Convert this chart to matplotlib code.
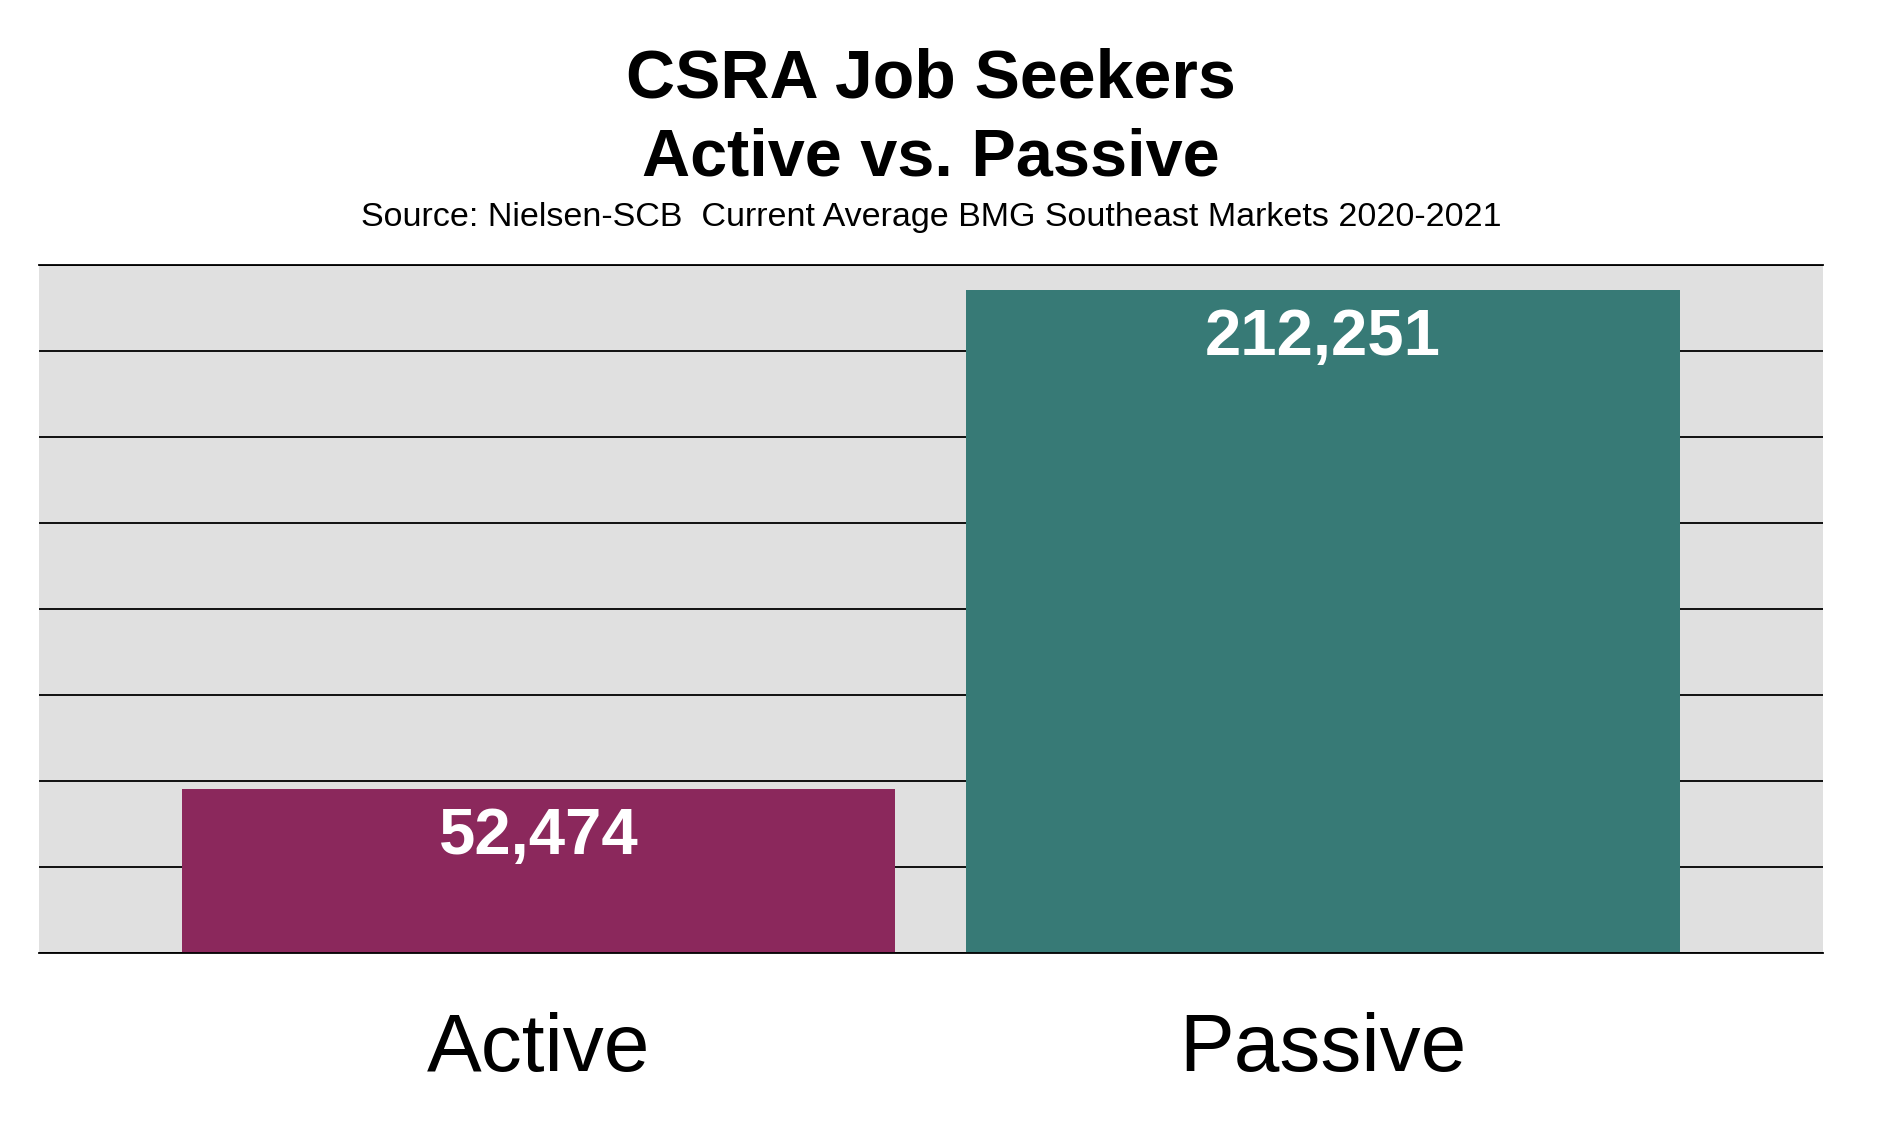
import matplotlib.pyplot as plt
import numpy as np

# data
categories = ['Active', 'Passive']
values = [52474, 212251]
bar_colors = ['#8B285C', '#377A76']
grid_ticks = np.arange(0, 220001, 27500)

plt.rcParams['font.family'] = ['Liberation Sans', 'DejaVu Sans']

fig = plt.figure(figsize=(18.98, 11.34), dpi=100)
ax_left, ax_width = 0.0204, 0.940
ax = fig.add_axes([ax_left, 0.160, ax_width, 0.606])
ax.set_facecolor('#E0E0E0')

x = np.arange(len(categories))
bars = ax.bar(x, values, width=0.91, color=bar_colors, zorder=3)

# value labels inside the bars
for rect, val in zip(bars, values):
    ax.annotate(f'{val:,}', (rect.get_x() + rect.get_width() / 2, rect.get_height()),
                xytext=(0, -35), textcoords='offset points', ha='center', va='center',
                color='white', fontsize=47, fontweight='bold', zorder=4)

ax.set_xlim(-0.637, 1.637)
ax.set_ylim(0, 220000)
ax.set_yticks(grid_ticks)
ax.yaxis.grid(True, color='black', linewidth=1.3, zorder=1)
ax.set_axisbelow(True)
ax.tick_params(axis='y', left=False, labelleft=False)
ax.set_xticks(x)
ax.set_xticklabels(categories, fontsize=59)
ax.tick_params(axis='x', length=0, pad=43)
for side in ['left', 'right']:
    ax.spines[side].set_visible(False)
for side in ['top', 'bottom']:
    ax.spines[side].set_color('black')
    ax.spines[side].set_linewidth(1.3)
    ax.spines[side].set_zorder(5)

# titles, centred over the plot area
cx = ax_left + ax_width / 2
fig.text(cx, 1 - 79 / 1134, 'CSRA Job Seekers', ha='center', va='center', fontsize=49, fontweight='bold')
fig.text(cx, 1 - 158 / 1134, 'Active vs. Passive', ha='center', va='center', fontsize=48, fontweight='bold')
fig.text(cx, 1 - 218 / 1134, 'Source: Nielsen-SCB  Current Average BMG Southeast Markets 2020-2021',
         ha='center', va='center', fontsize=24.5)

plt.savefig('out.png', dpi=100)
